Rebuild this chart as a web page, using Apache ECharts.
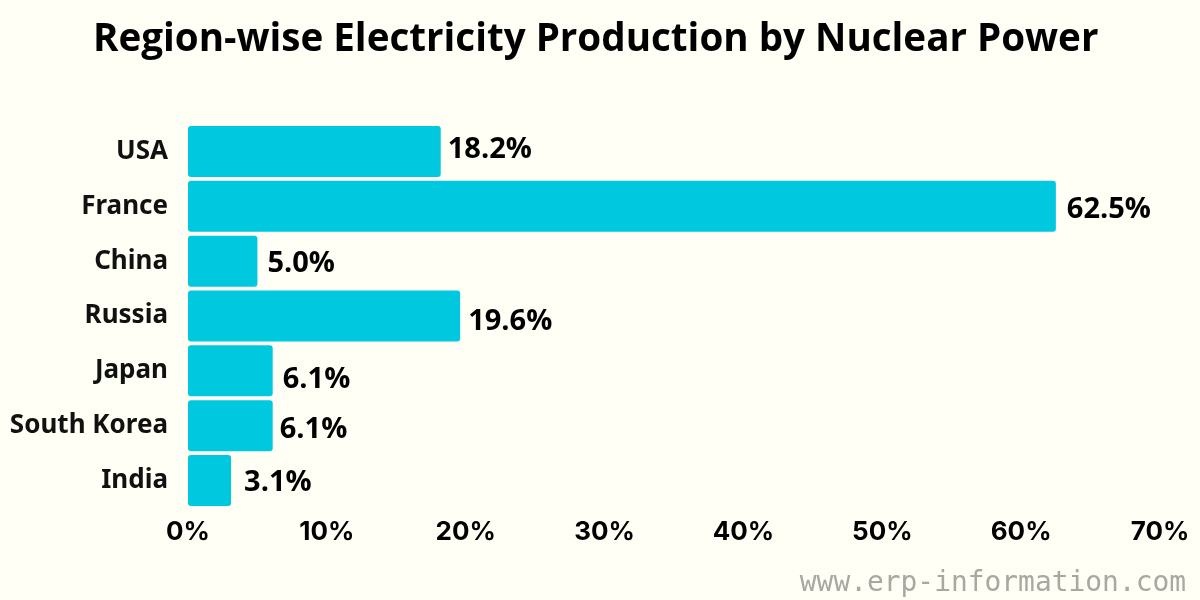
<!DOCTYPE html>
<html>
<head>
<meta charset="utf-8">
<style>html,body{margin:0;padding:0;background:#fffff5}#main{width:1200px;height:600px}</style>
<script src="https://cdn.jsdelivr.net/npm/echarts@6/dist/echarts.min.js"></script>
</head>
<body>
<div id="main"></div>
<script>
var regions = ['USA', 'France', 'China', 'Russia', 'Japan', 'South Korea', 'India'];
var shares = [18.2, 62.5, 5.0, 19.6, 6.1, 6.1, 3.1];
var tickStep = 10;
var tickMax = 70;
// the value labels were placed by hand in the original, so nudge them
var labelNudges = [[-1, -2], [3, 3], [2, 3], [0, 6], [2, 9], [-1, 4], [5, 2]];

var chart = echarts.init(document.getElementById('main'));
chart.setOption({
  backgroundColor: '#fffff5',
  animation: false,
  textStyle: {fontFamily: 'Inter, "Open Sans", sans-serif', fontWeight: 'bold', color: '#000'},
  title: [{
    text: 'Region-wise Electricity Production by Nuclear Power',
    left: 88,
    top: 16,
    textStyle: {fontSize: 38.6, fontWeight: 'bold', color: '#000', fontFamily: '"Open Sans", sans-serif'}
  }, {
    text: 'www.erp-information.com',
    right: 9,
    top: 565,
    textStyle: {fontSize: 27.9, fontWeight: 'normal', color: '#a8a8a2', fontFamily: '"DejaVu Sans Mono", monospace'}
  }],
  grid: {left: 188, right: 40, top: 124, bottom: 92},
  xAxis: {
    type: 'value',
    min: 0,
    max: tickMax,
    interval: tickStep,
    axisLine: {show: false},
    axisTick: {show: false},
    splitLine: {show: false},
    axisLabel: {
      formatter: '{value}%',
      fontSize: 26,
      fontWeight: 'bold',
      color: '#000',
      margin: 11
    }
  },
  yAxis: {
    type: 'category',
    data: regions,
    inverse: true,
    axisLine: {show: false},
    axisTick: {show: false},
    axisLabel: {fontSize: 26, fontWeight: 'bold', color: '#111', margin: 20, fontFamily: '"Noto Sans", sans-serif'}
  },
  series: [{
    type: 'bar',
    data: shares.map(function(value, i) {
      return {value: value, label: {offset: labelNudges[i]}};
    }),
    barWidth: 51,
    itemStyle: {color: '#00c9df', borderRadius: 3},
    label: {
      show: true,
      position: 'right',
      distance: 8,
      formatter: function(p) { return p.value.toFixed(1) + '%'; },
      fontSize: 29,
      fontWeight: 'bold',
      fontFamily: '"Open Sans", sans-serif',
      color: '#000'
    }
  }]
});
</script>
</body>
</html>
